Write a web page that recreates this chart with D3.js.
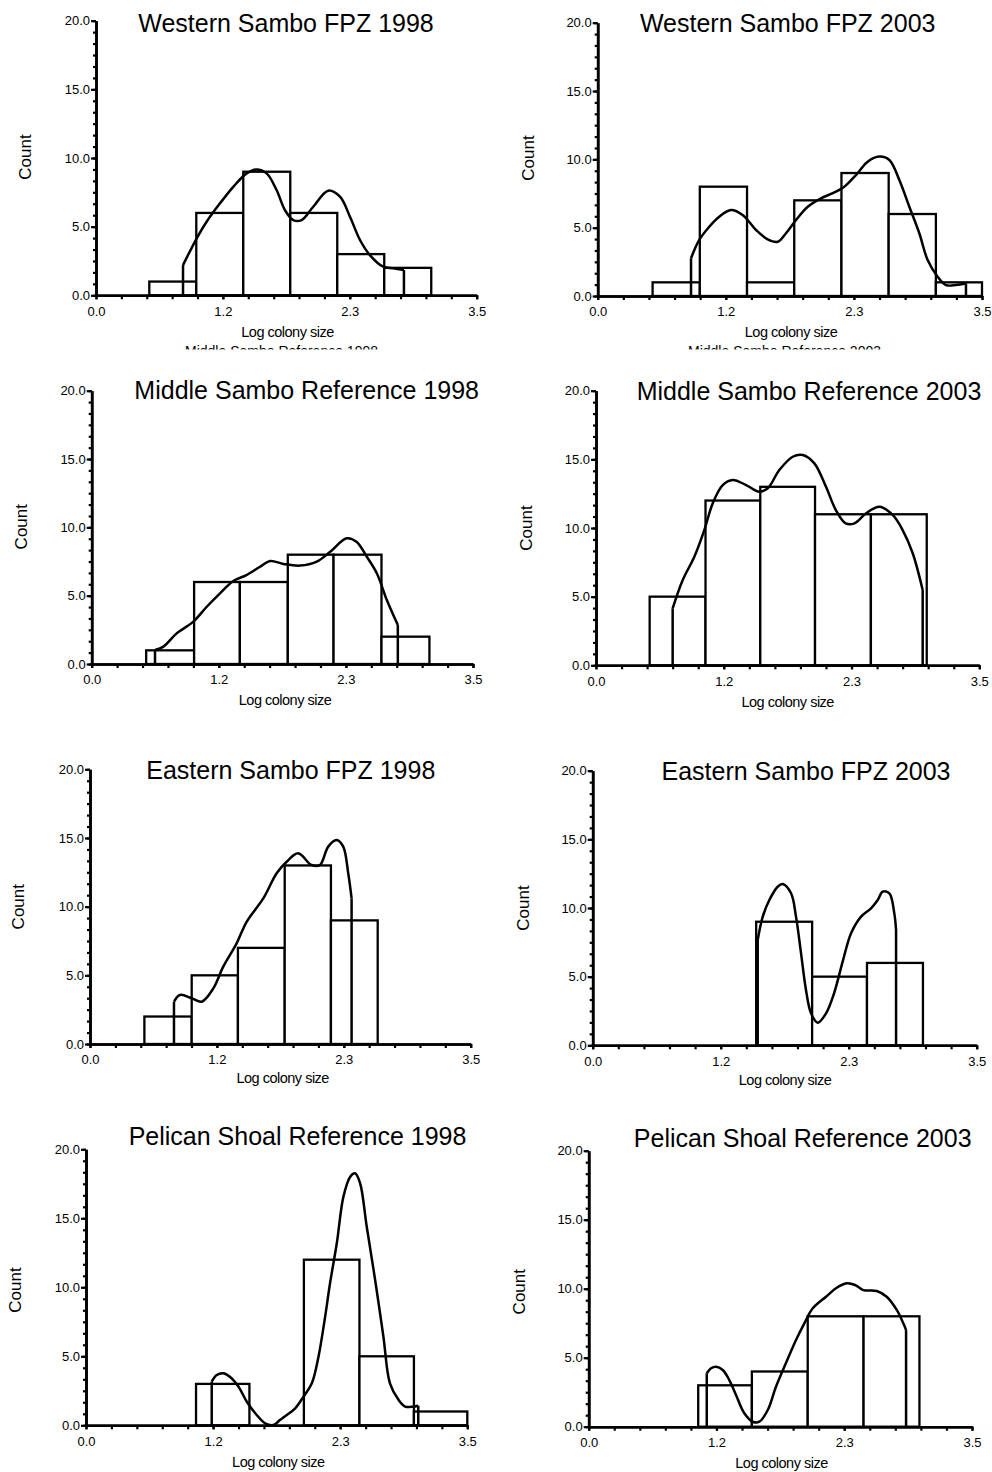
<!DOCTYPE html>
<html><head><meta charset="utf-8">
<script src="https://cdn.jsdelivr.net/npm/d3@7"></script>
<style>
body{margin:0;background:#fff}
svg{display:block;background:#fff}
text{font-family:"Liberation Sans",Arial,Helvetica,sans-serif;fill:#000}
</style>
</head><body>
<svg id="chart" width="992" height="1472"></svg>
<script>
// ---------------- DATA ----------------
const titles = [
  "Western Sambo FPZ 1998", "Western Sambo FPZ 2003",
  "Middle Sambo Reference 1998", "Middle Sambo Reference 2003",
  "Eastern Sambo FPZ 1998", "Eastern Sambo FPZ 2003",
  "Pelican Shoal Reference 1998", "Pelican Shoal Reference 2003"
];
const clippedCaptions = ["Middle Sambo Reference 1998", "Middle Sambo Reference 2003"];
const xTickValues = [0, 3.5 / 3, 7 / 3, 3.5];
const xTickLabels = ["0.0", "1.2", "2.3", "3.5"];
const yTickValues = [0, 5, 10, 15, 20];
const yTickLabels = ["0.0", "5.0", "10.0", "15.0", "20.0"];
const xLabel = "Log colony size";
const yLabel = "Count";

// bin edges and counts
const ws98Edges = [0.49, 0.922, 1.354, 1.786, 2.218, 2.65, 3.082];
const ws98Counts = [1, 6, 9, 6, 3, 2];
const ws03Edges = [0.5, 0.93, 1.36, 1.79, 2.22, 2.65, 3.08, 3.5];
const ws03Counts = [1, 8, 1, 7, 9, 6, 1];
const ms98Edges = [0.5, 0.94, 1.36, 1.8, 2.22, 2.66, 3.1];
const ms98Counts = [1, 6, 6, 8, 8, 2];
const ms03Edges = [0.49, 1.0, 1.5, 2.0, 2.51, 3.02];
const ms03Counts = [5, 12, 13, 11, 11];
const es98Edges = [0.5, 0.935, 1.36, 1.79, 2.215, 2.645];
const es98Counts = [2, 5, 7, 13, 9];
const es03Edges = [1.49, 2.0, 2.5, 3.01];
const es03Counts = [9, 5, 6];
const ps98Edges = [1.01, 1.5, 2.0, 2.51, 3.01, 3.5];
const ps98Counts = [3, 0, 12, 5, 1];
const ps03Edges = [1.0, 1.49, 2.0, 2.51, 3.02];
const ps03Counts = [3, 4, 8, 8];

// density curves (x, count)
const ws98Curve = [[0.80,2.2],[0.926,4.15],[1.017,5.36],[1.14,6.7],[1.262,7.9],[1.385,8.88],[1.477,9.17],[1.569,8.88],[1.66,7.67],[1.737,6.21],[1.813,5.48],[1.89,5.48],[1.997,6.45],[2.135,7.62],[2.243,7.18],[2.335,5.72],[2.427,4.03],[2.518,2.93],[2.641,2.08],[2.733,1.96],[2.831,1.84]];
const ws03Curve = [[0.85,2.76],[0.925,4.1],[1.016,5.07],[1.107,5.8],[1.214,6.29],[1.32,5.93],[1.442,4.83],[1.548,4.15],[1.64,3.97],[1.715,4.59],[1.806,5.56],[1.913,6.53],[2.034,7.15],[2.14,7.52],[2.246,8.0],[2.352,8.85],[2.459,9.83],[2.565,10.2],[2.656,9.95],[2.747,8.49],[2.838,6.53],[2.929,4.59],[3.005,2.63],[3.096,1.41],[3.172,0.8],[3.263,0.8],[3.354,0.93]];
const ms98Curve = [[0.581,1.02],[0.658,1.27],[0.78,2.24],[0.933,3.1],[1.056,4.19],[1.178,5.17],[1.30,6.07],[1.42,6.51],[1.545,7.12],[1.637,7.54],[1.76,7.32],[1.913,7.2],[2.066,7.49],[2.19,8.22],[2.34,9.2],[2.43,8.95],[2.525,7.85],[2.617,6.64],[2.709,4.68],[2.81,2.85]];
const ms03Curve = [[0.70,4.15],[0.792,6.21],[0.898,7.91],[0.989,9.85],[1.066,11.8],[1.157,13.13],[1.248,13.5],[1.37,13.13],[1.491,12.64],[1.568,12.89],[1.674,14.22],[1.796,15.19],[1.888,15.32],[1.994,14.71],[2.1,13.0],[2.19,11.31],[2.28,10.34],[2.36,10.34],[2.466,11.07],[2.587,11.55],[2.709,10.95],[2.8,9.85],[2.892,8.16],[2.983,5.48]];
const es98Curve = [[0.772,3.08],[0.827,3.57],[0.935,3.33],[1.027,3.08],[1.134,4.05],[1.225,5.63],[1.348,7.33],[1.44,8.9],[1.593,10.6],[1.716,12.43],[1.808,13.27],[1.914,13.88],[2.037,13.03],[2.114,13.03],[2.19,14.37],[2.267,14.85],[2.328,14.37],[2.374,12.43],[2.405,10.6]];
const es03Curve = [[1.504,7.67],[1.55,9.37],[1.61,10.58],[1.686,11.55],[1.732,11.75],[1.808,11.07],[1.853,9.37],[1.899,6.7],[1.944,4.03],[1.99,2.33],[2.051,1.65],[2.127,2.33],[2.2,3.79],[2.282,6.21],[2.355,8.16],[2.446,9.37],[2.537,9.98],[2.598,10.58],[2.643,11.19],[2.704,11.07],[2.749,9.61],[2.765,8.4]];
const ps98Curve = [[1.154,3.16],[1.2,3.64],[1.26,3.77],[1.32,3.52],[1.4,2.8],[1.476,1.71],[1.567,0.75],[1.643,0.15],[1.72,0.02],[1.78,0.38],[1.843,0.75],[1.92,1.23],[1.996,2.07],[2.073,3.04],[2.134,4.97],[2.195,7.87],[2.24,10.29],[2.302,13.19],[2.363,16.57],[2.424,18.0],[2.47,18.26],[2.516,17.54],[2.577,14.39],[2.654,10.53],[2.73,6.42],[2.79,3.04],[2.87,1.83],[2.93,1.35],[3.0,1.35],[3.05,1.42]];
const ps03Curve = [[1.078,3.87],[1.117,4.23],[1.163,4.35],[1.224,4.11],[1.284,3.38],[1.345,2.3],[1.421,0.97],[1.498,0.36],[1.558,0.36],[1.635,1.21],[1.71,2.9],[1.8,4.59],[1.893,6.28],[1.969,7.49],[2.046,8.58],[2.167,9.42],[2.258,10.03],[2.356,10.39],[2.432,10.27],[2.508,9.9],[2.63,9.83],[2.721,9.42],[2.813,8.46],[2.873,7.49],[2.898,7.0]];

const panelEdges = [ws98Edges, ws03Edges, ms98Edges, ms03Edges, es98Edges, es03Edges, ps98Edges, ps03Edges];
const panelCounts = [ws98Counts, ws03Counts, ms98Counts, ms03Counts, es98Counts, es03Counts, ps98Counts, ps03Counts];
const panelCurves = [ws98Curve, ws03Curve, ms98Curve, ms03Curve, es98Curve, es03Curve, ps98Curve, ps03Curve];

// ---------------- LAYOUT ----------------
const layout = [
  {x0:96,   x1:476.7, y0:295.3,  y1:20.7,   tx:286,   ty:31.7,   cx:25,    cy:157,    lx:287.5, ly:337},
  {x0:597.7,x1:982,   y0:296,    y1:22.7,   tx:787.7, ty:31.7,   cx:527.7, cy:158,    lx:791,   ly:337},
  {x0:91.7, x1:473,   y0:664,    y1:390.7,  tx:306.7, ty:399.3,  cx:21,    cy:526.7,  lx:285,   ly:705},
  {x0:596,  x1:979.3, y0:665.3,  y1:390.7,  tx:809,   ty:400,    cx:526,   cy:528,    lx:787.7, ly:706.7},
  {x0:90,   x1:470.7, y0:1044,   y1:769.3,  tx:290.8, ty:779.3,  cx:18.3,  cy:906.7,  lx:282.7, ly:1083.3},
  {x0:592.7,x1:976.7, y0:1045.3, y1:770.7,  tx:806,   ty:780,    cx:522.7, cy:908,    lx:785,   ly:1085},
  {x0:86,   x1:467.3, y0:1425.3, y1:1149.3, tx:297.5, ty:1145,   cx:15,    cy:1290,   lx:278.3, ly:1466.7},
  {x0:588.7,x1:972,   y0:1426.7, y1:1150.7, tx:802.7, ty:1146.7, cx:519.3, cy:1291.7, lx:781.5, ly:1468.3}
];

const svg = d3.select("#chart");
const xMinor = d3.range(16).map(i => i * 3.5 / 15);
const yMinor = d3.range(25).map(i => i * 20 / 24);

// clipped captions under the top row
svg.append("clipPath").attr("id", "capclip")
  .append("rect").attr("x", 0).attr("y", 340).attr("width", 992).attr("height", 9.5);
const capG = svg.append("g").attr("clip-path", "url(#capclip)");
capG.append("text").attr("x", 185).attr("y", 355.5).attr("font-size", 14).text(clippedCaptions[0]);
capG.append("text").attr("x", 688).attr("y", 355.5).attr("font-size", 14).text(clippedCaptions[1]);

layout.forEach((L, i) => {
  const x = d3.scaleLinear().domain([0, 3.5]).range([L.x0, L.x1]);
  const y = d3.scaleLinear().domain([0, 20]).range([L.y0, L.y1]);
  const g = svg.append("g");

  // bars
  const edges = panelEdges[i], counts = panelCounts[i];
  const bins = counts.map((c, k) => ({a: edges[k], b: edges[k + 1], c}));
  g.selectAll("rect.bar").data(bins.filter(d => d.c > 0)).join("rect")
    .attr("x", d => x(d.a)).attr("width", d => x(d.b) - x(d.a))
    .attr("y", d => y(d.c)).attr("height", d => y(0) - y(d.c))
    .attr("fill", "#fff").attr("stroke", "#000").attr("stroke-width", 2.3);

  // curve
  const pts = panelCurves[i];
  const line = d3.line().x(d => x(d[0])).y(d => y(d[1]));
  g.append("path").attr("d", line.curve(d3.curveCatmullRom.alpha(0.5))(pts))
    .attr("fill", "none").attr("stroke", "#000").attr("stroke-width", 2.5).attr("stroke-linejoin", "round");
  const first = pts[0], last = pts[pts.length - 1];
  const straight = d3.line().x(d => x(d[0])).y(d => y(d[1]));
  g.append("path").attr("d", straight([[first[0], 0], first]))
    .attr("fill", "none").attr("stroke", "#000").attr("stroke-width", 2.5);
  g.append("path").attr("d", straight([last, [last[0], 0]]))
    .attr("fill", "none").attr("stroke", "#000").attr("stroke-width", 2.5);

  // axes
  const xAxis = d3.axisBottom(x).tickValues(xTickValues)
    .tickFormat((d, k) => xTickLabels[k]).tickSize(4).tickPadding(7).tickSizeOuter(0);
  const xg = g.append("g").attr("transform", `translate(0,${y(0)})`).call(xAxis);
  const xm = g.append("g").attr("transform", `translate(0,${y(0)})`)
    .call(d3.axisBottom(x).tickValues(xMinor).tickFormat("").tickSize(4).tickSizeOuter(0));

  const yAxis = d3.axisLeft(y).tickValues(yTickValues)
    .tickFormat((d, k) => yTickLabels[k]).tickSize(5).tickPadding(1).tickSizeOuter(0);
  const yg = g.append("g").attr("transform", `translate(${x(0)},0)`).call(yAxis);
  const ym = g.append("g").attr("transform", `translate(${x(0)},0)`)
    .call(d3.axisLeft(y).tickValues(yMinor).tickFormat("").tickSize(3).tickSizeOuter(0));

  [xg, xm, yg, ym].forEach(a => {
    a.selectAll("path.domain").attr("stroke", "#000").attr("stroke-width", 2.6);
    a.selectAll(".tick line").attr("stroke", "#000").attr("stroke-width", 2.2);
    a.selectAll("text").attr("font-size", 13).attr("fill", "#000")
      .attr("font-family", '"Liberation Sans", Arial, sans-serif');
  });

  // labels
  g.append("text").attr("x", L.tx).attr("y", L.ty).attr("text-anchor", "middle")
    .attr("font-size", 25).text(titles[i]);
  g.append("text").attr("transform", `translate(${L.cx},${L.cy}) rotate(-90)`)
    .attr("text-anchor", "middle").attr("dy", "0.35em").attr("font-size", 17).text(yLabel);
  g.append("text").attr("x", L.lx).attr("y", L.ly).attr("text-anchor", "middle")
    .attr("font-size", 14.5).attr("letter-spacing", "-0.5px").text(xLabel);
});
</script>
</body></html>
